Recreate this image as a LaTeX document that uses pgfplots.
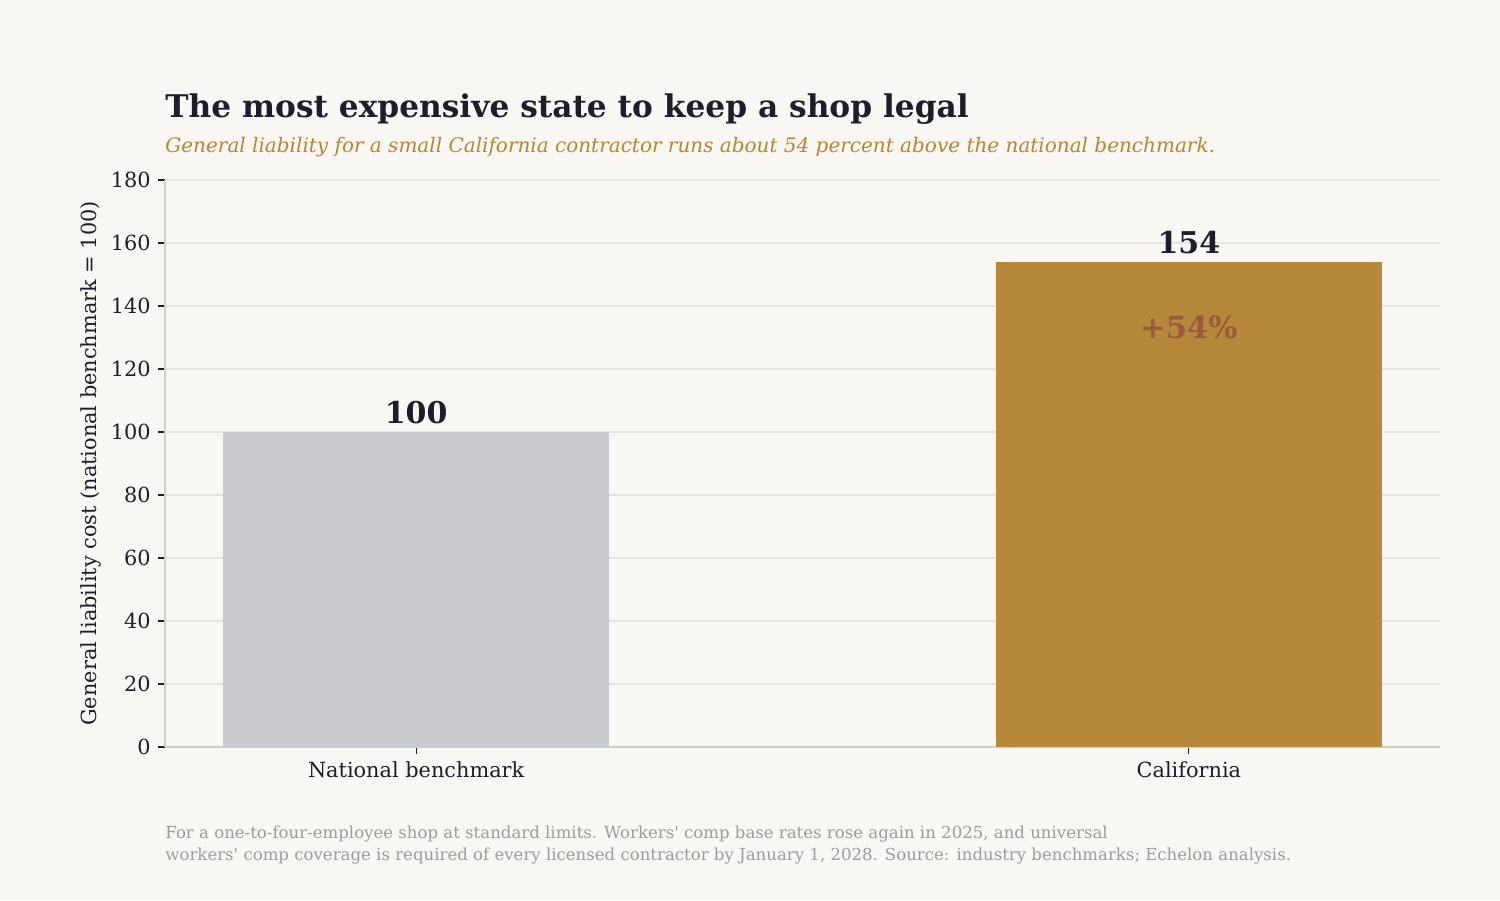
\documentclass[border=0pt]{standalone}
\usepackage{fontspec}
\setmainfont{DejaVu Serif}
\usepackage{pgfplots}
\pgfplotsset{compat=1.18}

\definecolor{bg}{HTML}{F8F7F3}
\definecolor{ink}{HTML}{1C1E2B}
\definecolor{gold}{HTML}{B8883A}
\definecolor{goldtext}{HTML}{B8862F}
\definecolor{rust}{HTML}{9A5A3D}
\definecolor{greybar}{HTML}{C9CBD0}
\definecolor{foot}{HTML}{9A9CA0}
\definecolor{gridc}{HTML}{E6E4DE}
\definecolor{spine}{HTML}{D0CEC7}

\begin{document}
\begin{tikzpicture}[x=0.48pt,y=0.48pt]
    \fill[bg] (0,0) rectangle (1500,900);

    % titles
    \node[anchor=base west, inner sep=0, text=ink,
          font=\fontsize{15}{18}\bfseries\selectfont] at (165,782)
        {The most expensive state to keep a shop legal};
    \node[anchor=base west, inner sep=0, text=goldtext,
          font=\fontsize{9.6}{12}\itshape\selectfont] at (165,747)
        {General liability for a small California contractor runs about 54 percent above the national benchmark.};

    \begin{axis}[
            at={(79.2pt,73.44pt)}, anchor=south west,
            scale only axis,
            width=612pt, height=272.16pt,
            %
            xmin=-0.325, xmax=1.325,
            ymin=0, ymax=180,
            xtick={0,1},
            xticklabels={National benchmark, California},
            ytick={0,20,...,180},
            %
            axis x line*=bottom,
            axis y line*=left,
            axis line style={-, draw=spine, line width=0.7pt},
            ymajorgrids,
            grid style={draw=gridc, line width=0.6pt},
            tick align=outside,
            major tick length=3.4pt,
            every tick/.style={draw=ink, line width=0.5pt},
            tick label style={font=\fontsize{10}{12}\selectfont, text=ink},
            /pgf/number format/assume math mode=true,
            ylabel={General liability cost (national benchmark = 100)},
            ylabel style={font=\fontsize{10}{12}\selectfont, text=ink,
                          at={(axis description cs:-0.058,0.5)}, anchor=center},
            clip=false,
            ybar, bar width=0.5,
        ]

        \addplot[fill=greybar, draw=none, bar shift=0pt] coordinates {(0,100)};
        \addplot[fill=gold, draw=none, bar shift=0pt] coordinates {(1,154)};

        \node[anchor=base, text=ink, yshift=3.84pt,
              font=\fontsize{14.4}{17}\bfseries\selectfont] at (axis cs:0,100) {100};
        \node[anchor=base, text=ink, yshift=3.84pt,
              font=\fontsize{14.4}{17}\bfseries\selectfont] at (axis cs:1,154) {154};
        \node[anchor=base, text=rust,
              font=\fontsize{14.7}{17}\bfseries\selectfont] at (axis cs:1,129.7) {+54\%};
    \end{axis}

    % footnote
    \node[anchor=base west, inner sep=0, text=foot,
          font=\fontsize{7.95}{10}\selectfont] at (165,61)
        {For a one-to-four-employee shop at standard limits. Workers\textquotesingle{} comp base rates rose again in 2025, and universal};
    \node[anchor=base west, inner sep=0, text=foot,
          font=\fontsize{7.95}{10}\selectfont] at (165,39)
        {workers\textquotesingle{} comp coverage is required of every licensed contractor by January 1, 2028. Source: industry benchmarks; Echelon analysis.};
\end{tikzpicture}
\end{document}
